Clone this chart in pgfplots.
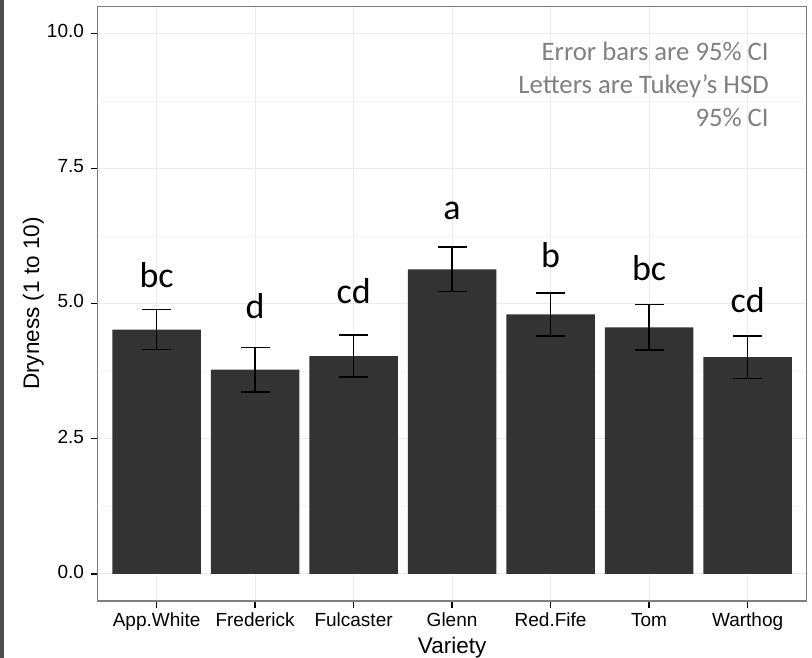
\documentclass[border=0pt]{standalone}
\usepackage{pgfplots}
\pgfplotsset{compat=1.18}
\usepackage{fontspec}
\setmainfont{Liberation Sans}
\newfontfamily\calib{Carlito}
\definecolor{barcol}{HTML}{333333}
\definecolor{stripcol}{HTML}{4D4D4D}
\definecolor{gridmaj}{HTML}{EBEBEB}
\definecolor{gridmin}{HTML}{F4F4F4}
\definecolor{framecol}{HTML}{7F7F7F}
\definecolor{notecol}{HTML}{808080}
\begin{document}
\begin{tikzpicture}
\useasboundingbox (0,0) rectangle (812pt,658pt);
\fill[stripcol] (0,0) rectangle (4pt,658pt);
\begin{axis}[
  at={(97.5pt,57pt)}, anchor=south west,
  scale only axis, width=709.2pt, height=594.7pt,
  xmin=0.4, xmax=7.6, ymin=-0.5, ymax=10.5,
  xtick={1,2,3,4,5,6,7},
  xticklabels={App.White,Frederick,Fulcaster,Glenn,Red.Fife,Tom,Warthog},
  ytick={0,2.5,5,7.5,10},
  yticklabels={0.0,2.5,5.0,7.5,10.0},
  minor ytick={1.25,3.75,6.25,8.75},
  grid=both,
  major grid style={gridmaj, line width=1pt},
  minor grid style={gridmin, line width=0.8pt},
  xtick pos=bottom, ytick pos=left,
  tick align=outside,
  major tick length=7pt, minor tick length=0pt,
  major tick style={black, line width=1.2pt},
  axis line style={framecol, line width=1.2pt},
  tick label style={font=\fontsize{19}{21}\selectfont, black},
  yticklabel style={xshift=-3pt},
  typeset ticklabels with strut,
  /pgf/number format/assume math mode=true,
  xlabel={Variety},
  ylabel={Dryness (1 to 10)},
  label style={font=\fontsize{22.5}{25}\selectfont},
  xlabel style={at={(axis description cs:0.5,-0.089)}, anchor=base},
  ylabel style={at={(axis description cs:-0.0822,0.5)}, anchor=base, rotate=0},
]
\addplot[ybar, bar width=0.9, fill=barcol, draw=none,
  error bars/.cd, y dir=both, y explicit,
  error bar style={black, line width=1.5pt},
  error mark options={black, line width=1.5pt, mark size=14.5pt, rotate=90}]
  coordinates {
  (1,4.52) +- (0,0.37)
  (2,3.78) +- (0,0.41)
  (3,4.03) +- (0,0.39)
  (4,5.635) +- (0,0.41)
  (5,4.80) +- (0,0.395)
  (6,4.56) +- (0,0.42)
  (7,4.01) +- (0,0.39)
  };
\begin{scope}[every node/.style={font=\calib\fontsize{36}{38}\selectfont, anchor=base}]
\node at (axis cs:1,5.30) {bc};
\node at (axis cs:2,4.72) {d};
\node at (axis cs:3,5.00) {cd};
\node at (axis cs:4,6.555) {a};
\node at (axis cs:5,5.667) {b};
\node at (axis cs:6,5.43) {bc};
\node at (axis cs:7,4.83) {cd};
\end{scope}
\begin{scope}[every node/.style={font=\calib\fontsize{26.7}{30}\selectfont, text=notecol, anchor=base east}]
\node at (axis cs:7.25,9.505) {Error bars are 95\% CI};
\node at (axis cs:7.25,8.894) {Letters are Tukey’s HSD};
\node at (axis cs:7.25,8.283) {95\% CI};
\end{scope}
\end{axis}
\end{tikzpicture}
\end{document}
